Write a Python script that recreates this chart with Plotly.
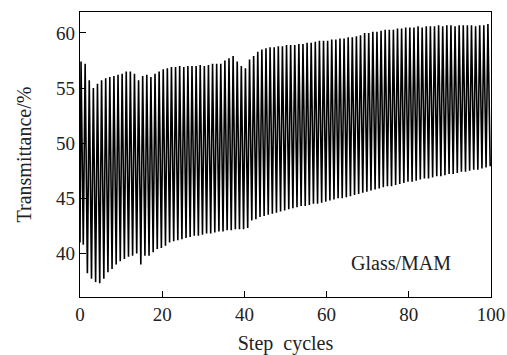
import plotly.graph_objects as go

# Per-cycle maxima (bleached) and minima (colored) transmittance, %
peaks = [57.4, 57.2, 55.7, 55.0, 55.4, 55.7, 55.9, 56.0, 56.1, 56.2,
         56.3, 56.5, 56.5, 56.3, 55.7, 56.1, 56.2, 56.0, 56.3, 56.5,
         56.7, 56.8, 56.9, 56.9, 57.0, 56.9, 57.0, 57.0, 57.0, 57.1,
         57.0, 57.1, 57.2, 57.2, 57.2, 57.5, 57.7, 57.9, 57.4, 57.0,
         56.8, 57.6, 57.9, 58.3, 58.5, 58.6, 58.7, 58.7, 58.8, 58.8,
         58.9, 58.9, 58.9, 59.0, 59.0, 59.1, 59.1, 59.2, 59.3, 59.3,
         59.3, 59.4, 59.4, 59.5, 59.5, 59.6, 59.6, 59.7, 59.8, 60.0,
         60.0, 60.1, 60.1, 60.2, 60.3, 60.3, 60.3, 60.4, 60.4, 60.5,
         60.5, 60.5, 60.6, 60.5, 60.6, 60.6, 60.6, 60.7, 60.6, 60.7,
         60.7, 60.6, 60.7, 60.7, 60.7, 60.7, 60.6, 60.7, 60.7, 60.8]
mins = [40.8, 38.2, 37.7, 37.4, 37.3, 37.7, 38.3, 38.6, 39.0, 39.3,
        39.5, 39.7, 39.8, 40.0, 39.0, 39.8, 39.8, 40.1, 40.4, 40.5,
        40.7, 41.0, 41.1, 41.2, 41.3, 41.4, 41.5, 41.6, 41.6, 41.7,
        41.8, 41.8, 41.9, 42.0, 42.0, 42.1, 42.1, 42.2, 42.2, 42.2,
        42.3, 43.0, 43.1, 43.3, 43.4, 43.5, 43.6, 43.7, 43.8, 43.9,
        44.0, 44.1, 44.2, 44.3, 44.3, 44.4, 44.5, 44.5, 44.6, 44.7,
        44.8, 44.9, 45.0, 45.0, 45.1, 45.2, 45.3, 45.4, 45.5, 45.6,
        45.7, 45.8, 45.9, 46.0, 46.1, 46.1, 46.2, 46.3, 46.4, 46.5,
        46.5, 46.6, 46.7, 46.8, 46.8, 46.9, 47.0, 47.0, 47.1, 47.2,
        47.2, 47.3, 47.4, 47.4, 47.5, 47.6, 47.6, 47.7, 47.8, 47.9]
start_value = 41.0

xtick_vals = [0, 20, 40, 60, 80, 100]
ytick_vals = [40, 45, 50, 55, 60]

SERIF = "Liberation Serif, Times New Roman, DejaVu Serif, serif"

# Build the step waveform: rise to the peak, fall to the minimum each cycle
xs = [0.0]
ys = [start_value]
for i, (p, m) in enumerate(zip(peaks, mins)):
    xs += [i + 0.25, i + 0.8]
    ys += [p, m]

fig = go.Figure()
fig.add_trace(go.Scatter(x=xs, y=ys, mode="lines",
                         line=dict(color="black", width=1.6),
                         showlegend=False, hoverinfo="skip"))

fig.add_annotation(x=0.655, y=0.118, xref="paper", yref="paper",
                   text="Glass/MAM", showarrow=False,
                   xanchor="left", yanchor="middle",
                   font=dict(family=SERIF, size=20, color="#222"))

axis_common = dict(showgrid=False, zeroline=False, showline=True,
                   linecolor="black", linewidth=1.2, mirror=True,
                   ticks="inside", ticklen=6, tickcolor="black",
                   automargin=False,
                   tickfont=dict(family=SERIF, size=19, color="#222"))

fig.update_xaxes(range=[0, 100], tickvals=xtick_vals,
                 title=dict(text="Step  cycles", standoff=14,
                            font=dict(family=SERIF, size=20, color="#222")),
                 **axis_common)
fig.update_yaxes(range=[36.05, 61.9], tickvals=ytick_vals,
                 title=dict(text="Transmittance/%", standoff=19,
                            font=dict(family=SERIF, size=20, color="#222")),
                 **axis_common)

fig.update_layout(width=507, height=355,
                  margin=dict(l=80, r=16, t=12, b=58),
                  font=dict(family=SERIF, color="#222"),
                  plot_bgcolor="white", paper_bgcolor="white")

fig.write_html("out.html")
